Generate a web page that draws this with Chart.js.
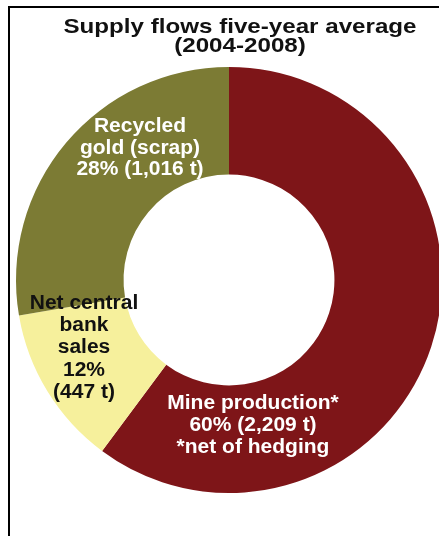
<!DOCTYPE html>
<html>
<head>
<meta charset="utf-8">
<script src="https://cdn.jsdelivr.net/npm/chart.js@4.4.1/dist/chart.umd.min.js"></script>
<style>
    html, body { margin: 0; padding: 0; overflow: hidden; background: #fff; }
    #wrap { position: absolute; left: 0; top: 0; width: 458px; height: 536px; }
    #frame { position: absolute; left: 8px; top: 6px; width: 600px; height: 700px;
             border-left: 2px solid #000; border-top: 2px solid #000; pointer-events: none; }
</style>
</head>
<body>
<div id="wrap"><canvas id="supplyChart"></canvas></div>
<div id="frame"></div>
<script>
// Dữ liệu biểu đồ
const titleLines = ['Supply flows five-year average', '(2004-2008)'];
const categories = ['Mine production', 'Net central bank sales', 'Recycled gold (scrap)'];
const tonnes = [2209, 447, 1016];
const shares = [60, 12, 28];
const sliceColors = ['#7e1518', '#f6f09c', '#7c7b34'];

const fmt = n => n.toLocaleString('en-US');

// Chữ trên từng lát
const sliceText = [
    [categories[0] + '*', shares[0] + '% (' + fmt(tonnes[0]) + ' t)', '*net of hedging'],
    ['Net central', 'bank', 'sales', shares[1] + '%', '(' + fmt(tonnes[1]) + ' t)'],
    ['Recycled', 'gold (scrap)', shares[2] + '% (' + fmt(tonnes[2]) + ' t)']
];

function drawLines(ctx, lines, x, y, step, font, color, sx) {
    ctx.save();
    ctx.font = font;
    ctx.fillStyle = color;
    ctx.textAlign = 'center';
    ctx.textBaseline = 'alphabetic';
    lines.forEach((t, i) => {
        ctx.save();
        ctx.translate(x, y + i * step);
        ctx.scale(sx, 1);
        ctx.fillText(t, 0, 0);
        ctx.restore();
    });
    ctx.restore();
}

const textPlugin = {
    id: 'textPlugin',
    afterDraw(chart, args, opts) {
        const ctx = chart.ctx;
        drawLines(ctx, titleLines, 240, 33, 18.5, 'bold 21px "Liberation Sans", Arial, sans-serif', '#111', 1.15);
        opts.blocks.forEach((b, i) => {
            drawLines(ctx, sliceText[i], b.x, b.y, b.step, 'bold 20px "Liberation Sans", Arial, sans-serif', b.color, 1.05);
        });
    }
};

const ctx = document.getElementById('supplyChart').getContext('2d');
new Chart(ctx, {
    type: 'doughnut',
    data: {
        labels: categories,
        datasets: [{
            data: tonnes,
            backgroundColor: sliceColors,
            borderWidth: 0,
            hoverOffset: 0
        }]
    },
    options: {
        responsive: true,
        maintainAspectRatio: false,
        animation: false,
        cutout: '49.5%',
        layout: { padding: { left: 16, right: 16, top: 65, bottom: 41 } },
        plugins: {
            legend: { display: false },
            tooltip: { enabled: false },
            title: { display: false },
            textPlugin: {
                blocks: [
                    { x: 253, y: 409, step: 22, color: '#fff' },
                    { x: 84, y: 309, step: 22.2, color: '#111' },
                    { x: 140, y: 132, step: 21.5, color: '#fff' }
                ]
            }
        }
    },
    plugins: [textPlugin]
});
</script>
</body>
</html>
